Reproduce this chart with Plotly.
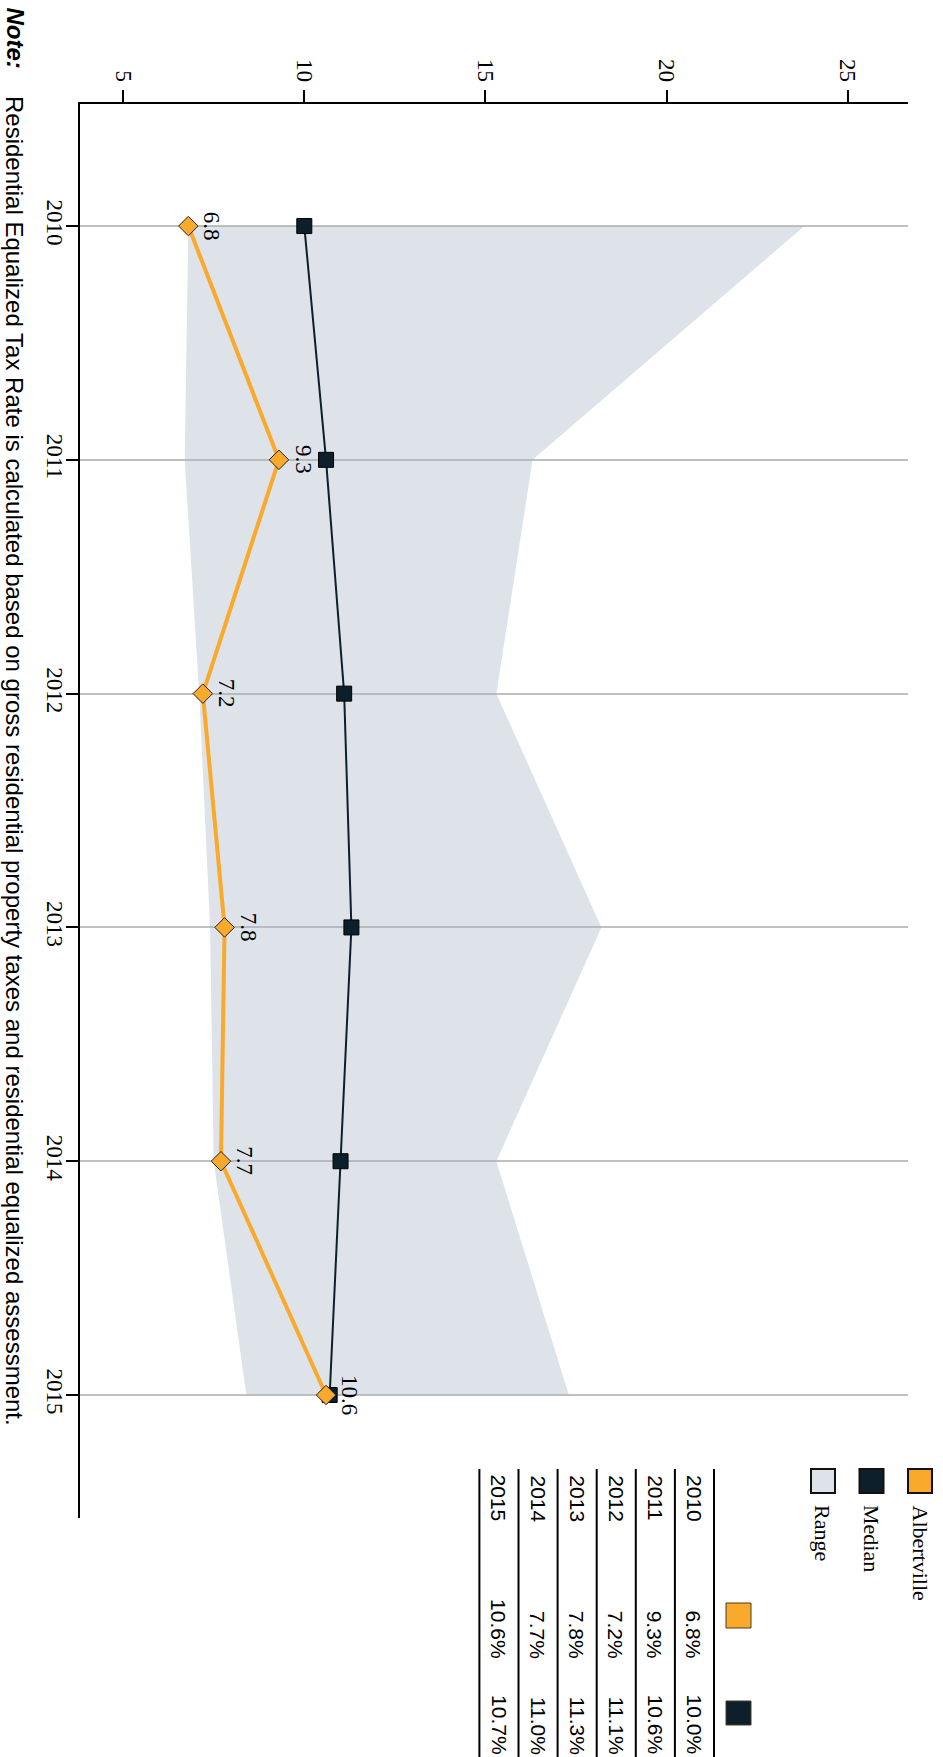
import plotly.graph_objects as go

# ---- data ----
years = [2010, 2011, 2012, 2013, 2014, 2015]
albertville = [6.8, 9.3, 7.2, 7.8, 7.7, 10.6]
median = [10.0, 10.6, 11.1, 11.3, 11.0, 10.7]
range_min = [6.8, 6.7, 7.1, 7.4, 7.5, 8.4]
range_max = [23.8, 16.3, 15.3, 18.2, 15.3, 17.3]
series_names = ["Albertville", "Median", "Range"]
note_label = "Note:"
note_text = ("Residential Equalized Tax Rate is calculated based on gross residential "
             "property taxes and residential equalized assessment.")

# ---- styling ----
W, H = 943, 1757
ML, MR, MT, MB = 80, 35, 104, 239
PW, PH = W - ML - MR, H - MT - MB
ORANGE = "#f9a92c"
NAVY = "#0d1f2b"
RANGE_FILL = "rgba(160,178,194,0.36)"
RANGE_SWATCH = "#dde3e8"
SERIF = "Liberation Serif, Times New Roman, serif"
SANS = "Liberation Sans, Arial, sans-serif"


def xp(px):
    return (px - ML) / PW


def yp(py):
    return 1 - (py - MT) / PH


fig = go.Figure()

# shaded min-max band
fig.add_trace(go.Scatter(x=range_min, y=years, mode="lines",
                         line=dict(width=0, color=RANGE_FILL), hoverinfo="skip"))
fig.add_trace(go.Scatter(x=range_max, y=years, mode="lines", fill="tonextx",
                         fillcolor=RANGE_FILL, line=dict(width=0, color=RANGE_FILL),
                         name=series_names[2]))

# median line
fig.add_trace(go.Scatter(x=median, y=years, mode="lines+markers", name=series_names[1],
                         line=dict(color=NAVY, width=2),
                         marker=dict(symbol="square", size=15, color=NAVY,
                                     line=dict(color="#000000", width=1))))

# Albertville line
fig.add_trace(go.Scatter(x=albertville, y=years, mode="lines+markers", name=series_names[0],
                         line=dict(color=ORANGE, width=4),
                         marker=dict(symbol="diamond", size=15, color=ORANGE,
                                     line=dict(color="#222222", width=1))))

annotations = []
shapes = []

# value labels next to the Albertville points
for yr, v in zip(years, albertville):
    annotations.append(dict(x=v, y=yr, xref="x", yref="y", text=f"{v}",
                            showarrow=False, textangle=90, xanchor="center",
                            yanchor="middle", xshift=24,
                            font=dict(family=SERIF, size=23, color="#000000")))

# note along the left edge
annotations.append(dict(x=xp(15), y=yp(5), xref="paper", yref="paper",
                        text=f"<b><i>{note_label}</i></b>", showarrow=False,
                        textangle=90, xanchor="center", yanchor="top",
                        font=dict(family=SANS, size=24, color="#000000")))
annotations.append(dict(x=xp(15), y=yp(94), xref="paper", yref="paper",
                        text=note_text, showarrow=False,
                        textangle=90, xanchor="center", yanchor="top",
                        font=dict(family=SANS, size=24, color="#000000")))

# legend
legend_fills = [ORANGE, NAVY, RANGE_SWATCH]
for i, (name, col) in enumerate(zip(series_names, legend_fills)):
    cx = 920 - i * 48.5
    shapes.append(dict(type="rect", xref="paper", yref="paper",
                       x0=xp(cx - 12), x1=xp(cx + 12), y0=yp(1469), y1=yp(1493),
                       fillcolor=col, line=dict(color="#111111", width=2)))
    annotations.append(dict(x=xp(cx), y=yp(1503), xref="paper", yref="paper",
                            text=name, showarrow=False, textangle=90,
                            xanchor="center", yanchor="top",
                            font=dict(family=SERIF, size=22, color="#000000")))

# data table
header_x = 738.5
for col, (y0, y1) in zip([ORANGE, NAVY], [(1603, 1628), (1701, 1725)]):
    shapes.append(dict(type="rect", xref="paper", yref="paper",
                       x0=xp(header_x - 12.5), x1=xp(header_x + 12.5),
                       y0=yp(y0), y1=yp(y1), fillcolor=col,
                       line=dict(color="#4a3a20", width=1)))

row_step = 39.1
first_line = 714
for i in range(len(years) + 1):
    lx = first_line - i * row_step
    shapes.append(dict(type="line", xref="paper", yref="paper",
                       x0=xp(lx), x1=xp(lx), y0=yp(1469), y1=yp(H),
                       line=dict(color="#000000", width=2)))

for i, (yr, a, m) in enumerate(zip(years, albertville, median)):
    cx = first_line - (i + 0.5) * row_step
    tfont = dict(family=SANS, size=21, color="#000000")
    annotations.append(dict(x=xp(cx), y=yp(1473), xref="paper", yref="paper",
                            text=str(yr), showarrow=False, textangle=90,
                            xanchor="center", yanchor="top", font=tfont))
    annotations.append(dict(x=xp(cx), y=yp(1661), xref="paper", yref="paper",
                            text=f"{a:.1f}%", showarrow=False, textangle=90,
                            xanchor="center", yanchor="bottom", font=tfont))
    annotations.append(dict(x=xp(cx), y=yp(1757), xref="paper", yref="paper",
                            text=f"{m:.1f}%", showarrow=False, textangle=90,
                            xanchor="center", yanchor="bottom", font=tfont))

fig.update_layout(
    width=W, height=H,
    margin=dict(l=ML, r=MR, t=MT, b=MB, pad=0),
    paper_bgcolor="white", plot_bgcolor="white",
    showlegend=False,
    annotations=annotations, shapes=shapes,
    xaxis=dict(side="top", range=[3.81, 26.66], tick0=0, dtick=5,
               showgrid=False, zeroline=False, showline=True, linecolor="#000000",
               linewidth=2, ticks="outside", ticklen=12, tickwidth=2,
               tickcolor="#000000", tickangle=90,
               tickfont=dict(family=SERIF, size=23, color="#000000")),
    yaxis=dict(range=[2015.526, 2009.478], tickvals=years,
               ticktext=[str(y) for y in years],
               showgrid=True, gridcolor="#c0c0c0", gridwidth=2,
               zeroline=False, showline=True, linecolor="#000000", linewidth=2,
               ticks="outside", ticklen=12, tickwidth=2, tickcolor="#000000",
               tickangle=90, ticklabelstandoff=-9,
               tickfont=dict(family=SERIF, size=23, color="#000000")),
)

fig.write_html("out.html")
